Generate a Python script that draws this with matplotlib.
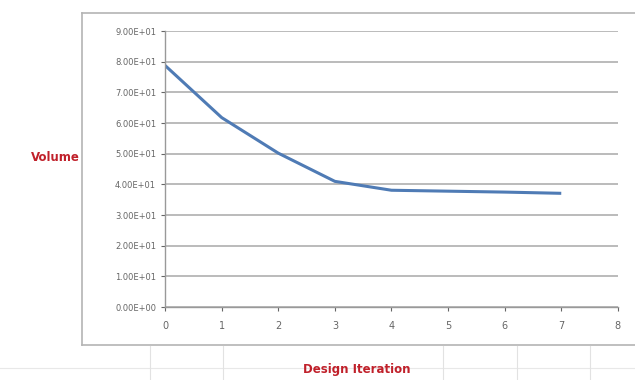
import matplotlib.pyplot as plt
from matplotlib.lines import Line2D

# Volume per design iteration
iterations = [0, 1, 2, 3, 4, 5, 6, 7]
volume = [78.8, 61.8, 50.2, 41.0, 38.1, 37.8, 37.5, 37.1]
y_ticks = [0, 10, 20, 30, 40, 50, 60, 70, 80, 90]
x_ticks = [0, 1, 2, 3, 4, 5, 6, 7, 8]

fig = plt.figure(figsize=(6.35, 3.8), dpi=100)
ax = fig.add_axes([0.26, 0.192, 0.713, 0.726])

ax.plot(iterations, volume, color='#4f7bb5', lw=2.2, solid_capstyle='butt')

ax.set_xlim(0, 8)
ax.set_ylim(0, 90)
ax.set_xticks(x_ticks)
ax.set_yticks(y_ticks)
ax.set_yticklabels(['%.2E' % v for v in y_ticks])
ax.tick_params(axis='y', labelsize=6, colors='#666666', length=3, width=0.8)
ax.tick_params(axis='x', labelsize=7, colors='#666666', length=3, width=0.8, pad=7)
ax.grid(axis='y', color='#a8a8a8', lw=1.1)
ax.set_axisbelow(True)
for s in ['top', 'right']:
    ax.spines[s].set_visible(False)
for s in ['left', 'bottom']:
    ax.spines[s].set_color('#999999')
    ax.spines[s].set_linewidth(1.0)

# chart frame and surrounding sheet lines
W, H = 635, 380
def fline(x0, y0, x1, y1, c='#b0b0b0', lw=1.0):
    fig.add_artist(Line2D([x0 / W, x1 / W], [1 - y0 / H, 1 - y1 / H],
                          color=c, lw=lw, transform=fig.transFigure))

fline(82, 13, 635, 13, '#b4b4b4', 1.2)
fline(82, 13, 82, 345, '#b4b4b4', 1.2)
fline(82, 345, 635, 345, '#b4b4b4', 1.2)
fline(0, 368, 635, 368, '#e8e8e8', 0.8)
for xv in [150, 223, 443, 517, 590]:
    fline(xv, 346, xv, 380, '#e2e2e2', 0.8)

fig.text(55 / W, 1 - 157 / H, 'Volume', color='#c0202a', fontsize=8.5,
         fontweight='bold', ha='center', va='center')
fig.text(357 / W, 1 - 370 / H, 'Design Iteration', color='#c0202a', fontsize=8.5,
         fontweight='bold', ha='center', va='center')

plt.savefig('out.png', dpi=100)
